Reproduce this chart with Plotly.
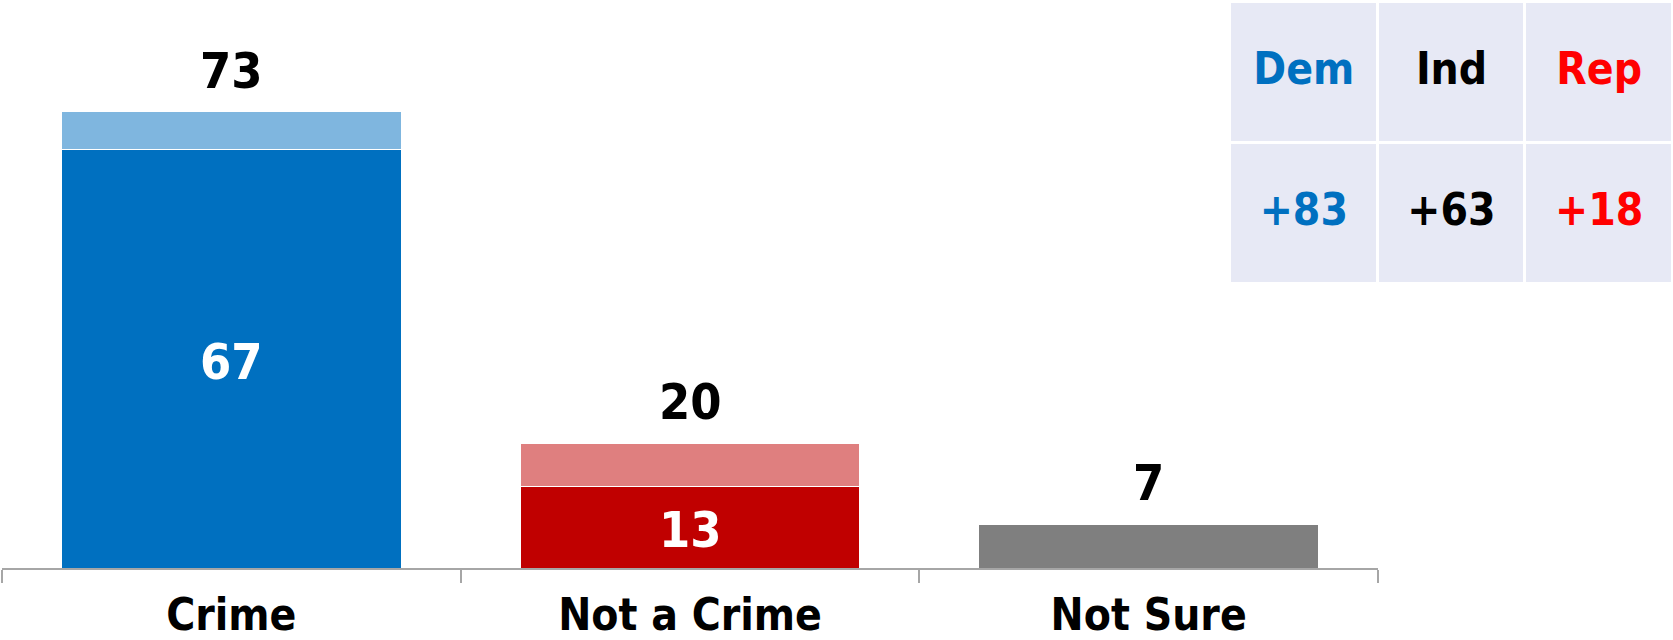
import plotly.graph_objects as go

categories = ["Crime", "Not a Crime", "Not Sure"]
strong_vals = [67, 13, 7]
lean_vals = [6, 7, 0]
totals = [73, 20, 7]
strong_colors = ["#0070C0", "#C00000", "#7F7F7F"]
lean_colors = ["#7FB6DF", "#DF7F7F", "#BFBFBF"]
inside_labels = ["67", "13", ""]

table_header = ["Dem", "Ind", "Rep"]
table_values = ["+83", "+63", "+18"]
table_colors = ["#0070C0", "#000000", "#FF0000"]

FONT = "DejaVu Sans Condensed, Liberation Sans Narrow, DejaVu Sans, sans-serif"
W, H = 1673, 640

fig = go.Figure()
fig.add_trace(go.Bar(
    x=categories, y=strong_vals, marker=dict(color=strong_colors, line=dict(color="white", width=1)),
    hoverinfo="skip", showlegend=False))
fig.add_trace(go.Bar(
    x=categories, y=lean_vals, marker=dict(color=lean_colors, line=dict(color="white", width=1)),
    hoverinfo="skip", showlegend=False))

annotations = []
for i, c in enumerate(categories):
    annotations.append(dict(x=c, y=totals[i], xref="x", yref="y", text=str(totals[i]),
                            showarrow=False, yanchor="middle", yshift=41,
                            font=dict(family=FONT, size=50, color="black", weight=700)))
    if inside_labels[i]:
        annotations.append(dict(x=c, y=strong_vals[i] / 2, xref="x", yref="y", text=inside_labels[i],
                                showarrow=False, yanchor="middle", yshift=-3,
                                font=dict(family=FONT, size=50, color="white", weight=700)))

# table as heatmap cells
fig.add_trace(go.Heatmap(
    x=[0, 1, 2], y=[0, 1], z=[[1, 1, 1], [1, 1, 1]],
    colorscale=[[0, "#E7E9F5"], [1, "#E7E9F5"]], showscale=False,
    xgap=3, ygap=3, hoverinfo="skip", xaxis="x2", yaxis="y2"))
fig.add_trace(go.Scatter(
    x=[0, 1, 2, 0, 1, 2], y=[0, 0, 0, 1, 1, 1], mode="text",
    text=table_header + table_values,
    textfont=dict(family=FONT, size=44, color=table_colors + table_colors, weight=700),
    hoverinfo="skip", showlegend=False, xaxis="x2", yaxis="y2"))

fig.update_layout(
    width=W, height=H, margin=dict(l=0, r=0, t=0, b=0),
    paper_bgcolor="white", plot_bgcolor="white",
    barmode="stack", bargap=0.26,
    annotations=annotations,
    xaxis=dict(domain=[2 / W, 1378 / W], range=[-0.5, 2.5], showline=True, linecolor="#A6A6A6",
               linewidth=2, ticks="outside", tickson="boundaries", ticklen=13, tickwidth=1.5,
               tickcolor="#A6A6A6", showgrid=False, zeroline=False, ticklabelstandoff=7,
               automargin=False,
               tickfont=dict(family=FONT, size=44, color="black", weight=700)),
    yaxis=dict(domain=[72 / H, 1], range=[0, 90.9], visible=False, showgrid=False, zeroline=False),
    xaxis2=dict(domain=[1230 / W, 1], range=[-0.5, 2.5], visible=False, anchor="y2"),
    yaxis2=dict(domain=[1 - 284 / H, 1 - 2 / H], range=[1.5, -0.5], visible=False, anchor="x2"),
)

fig.write_html("out.html", config={"displayModeBar": False},
               post_script="document.body.style.margin='0';")
